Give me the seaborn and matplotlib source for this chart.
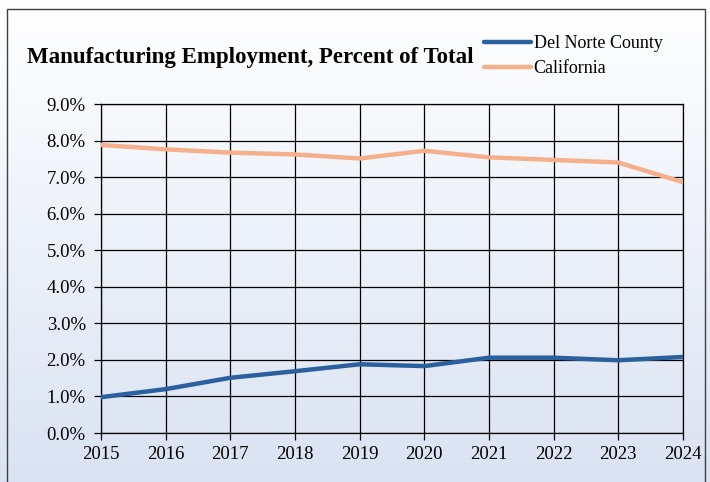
import numpy as np
import pandas as pd
import matplotlib
matplotlib.use('Agg')
import matplotlib.pyplot as plt
import seaborn as sns
from matplotlib.patches import Rectangle
from matplotlib.ticker import FuncFormatter, MultipleLocator

# Data (percent of total employment)
years = [2015, 2016, 2017, 2018, 2019, 2020, 2021, 2022, 2023, 2024]
del_norte = [0.98, 1.20, 1.51, 1.69, 1.88, 1.83, 2.06, 2.06, 1.99, 2.08]
california = [7.88, 7.76, 7.67, 7.62, 7.51, 7.72, 7.54, 7.47, 7.40, 6.86]
series_names = ['Del Norte County', 'California']
series_colors = ['#2b5f9e', '#f5b08b']

df = pd.DataFrame({
    'Year': years * 2,
    'Pct': del_norte + california,
    'Series': [series_names[0]] * len(years) + [series_names[1]] * len(years),
})

sns.set_style('white')
plt.rcParams['font.family'] = ['Liberation Serif', 'DejaVu Serif']
plt.rcParams['text.color'] = 'black'

fig = plt.figure(figsize=(7.10, 4.82), dpi=100)

# background gradient white -> light blue
bg = fig.add_axes([0, 0, 1, 1], zorder=-10)
grad = np.linspace(0, 1, 256).reshape(-1, 1)
c_top = np.array([1.0, 1.0, 1.0])
c_bot = np.array([0.855, 0.890, 0.953])
img = c_top + (c_bot - c_top) * grad[:, :, None]
bg.imshow(img, aspect='auto', extent=[0, 1, 0, 1], origin='upper')
bg.set_xlim(0, 1)
bg.set_ylim(0, 1)
bg.axis('off')
bg.add_patch(Rectangle((7 / 710, -0.05), 698 / 710, 1 - 9 / 482 + 0.05,
                       fill=False, edgecolor='#404040', lw=1.0))

ax = fig.add_axes([101 / 710, 1 - 433 / 482, 582 / 710, 329 / 482])
ax.patch.set_alpha(0)

sns.lineplot(data=df, x='Year', y='Pct', hue='Series', palette=series_colors,
             hue_order=series_names, linewidth=3.2, ax=ax, legend=False, zorder=3)

ax.set_xlim(2015, 2024)
ax.set_ylim(0, 9)
ax.yaxis.set_major_locator(MultipleLocator(1))
ax.xaxis.set_major_locator(MultipleLocator(1))
ax.yaxis.set_major_formatter(FuncFormatter(lambda v, p: f'{v:.1f}%'))
ax.grid(True, color='black', lw=0.9)
ax.set_axisbelow(True)
for s in ax.spines.values():
    s.set_visible(True)
    s.set_color('black')
    s.set_linewidth(0.9)
ax.tick_params(axis='both', which='major', labelsize=13.5, colors='black',
               direction='out', length=5, width=0.9, left=True, bottom=True)
ax.tick_params(axis='y', pad=6)
ax.tick_params(axis='x', pad=4.5)
ax.set_xlabel('')
ax.set_ylabel('')

fig.text(27 / 710, 1 - 58 / 482, 'Manufacturing Employment, Percent of Total',
         fontsize=16.5, fontweight='bold', va='center', ha='left', color='black')

# legend
handles = [plt.Line2D([], [], color=c, lw=3.2) for c in series_colors]
leg = fig.legend(handles, series_names, loc='upper left',
                 bbox_to_anchor=(484 / 710, 1 - 35 / 482), frameon=False,
                 fontsize=13, handlelength=2.6, handletextpad=0.15,
                 labelspacing=0.45, borderaxespad=0, borderpad=0)
for t in leg.get_texts():
    t.set_color('black')

fig.savefig('out.png', dpi=100)
